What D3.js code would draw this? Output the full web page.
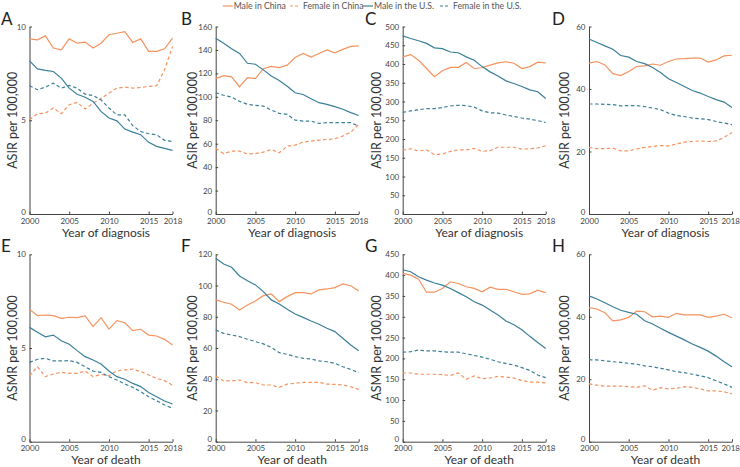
<!DOCTYPE html>
<html><head><meta charset="utf-8">
<script src="https://cdn.jsdelivr.net/npm/d3@7"></script>
<style>body{margin:0;background:#fff}svg{display:block}</style>
</head><body>
<svg id="c" width="740" height="467"></svg>
<script>
const years = d3.range(2000, 2019);
const xTicks = [2000, 2005, 2010, 2015, 2018];
const seriesNames = ["Male in China", "Female in China", "Male in the U.S.", "Female in the U.S."];

// A: ASIR
const A_maleChina   = [9.34,9.29,9.5,8.85,8.76,9.34,9.11,9.17,8.85,9.11,9.56,9.64,9.73,9.15,9.34,8.67,8.67,8.81,9.38];
const A_femaleChina = [5.03,5.35,5.38,5.65,5.35,5.83,5.95,5.6,5.91,6.16,6.45,6.71,6.77,6.71,6.75,6.8,6.84,7.69,8.93];
const A_maleUS      = [8.17,7.74,7.66,7.6,7.25,6.71,6.39,6.23,6.0,5.47,5.12,4.97,4.53,4.37,4.23,3.82,3.61,3.5,3.39];
const A_femaleUS    = [6.84,6.63,6.77,6.98,6.71,6.86,6.71,6.39,6.32,6.09,5.65,5.29,5.29,4.71,4.4,4.28,4.23,3.93,3.87];
// B
const B_maleChina   = [115.5,118,117,108.6,116.4,115.5,124,126,125,127,133.5,137,134,137,140,137.5,140.5,143,143.5];
const B_femaleChina = [56,51.6,53.6,53.6,51.3,51.6,52.8,55,52.2,57.9,58.8,61.3,62.2,63,63.6,64.2,66.5,69.8,76.4];
const B_maleUS      = [150,145.7,141,137,128.6,127.8,123,117.8,114,109,103.5,102,98.4,95,93.6,91.6,89.4,86.5,84.1];
const B_femaleUS    = [103.5,101.3,99.8,96.1,93.6,92.7,92.1,88.7,85.9,85,80.1,79.3,79.3,77.3,77.9,77.9,77.9,77.9,75];
// C
const C_maleChina   = [419,425,410,388,366,382,391,391,404,388,390,397,403,406,402,388,393,405,403];
const C_femaleChina = [170,174,168,171,158,160,167,171,171,175,167,169,178,178,178,173,174,176,182];
const C_maleUS      = [475,468,462,455,443,441,432,430,419,410,393,379,368,355,348,340,331,326,308];
const C_femaleUS    = [271,275,278,281,281,284,288,290,289,285,275,270,269,264,260,256,253,249,244];
// D
const D_maleChina   = [48.3,48.8,47.7,44.9,44.3,45.6,47.2,47.4,48,47.6,48.8,49.6,49.7,49.9,49.9,48.6,49.3,50.6,50.8];
const D_femaleChina = [21.3,20.9,20.9,21.1,20.2,20.2,20.8,21.3,21.6,21.9,21.8,22.4,23,23.2,23.4,23.2,23.4,24.5,26.1];
const D_maleUS      = [56,54.9,53.8,52.7,50.7,50.2,48.8,48.1,46.9,45.3,43.3,42.1,40.8,39.5,38.7,37.6,36.6,35.8,34.1];
const D_femaleUS    = [35.2,35.2,35.1,35,34.6,34.7,34.7,34.4,33.9,33.4,32.3,31.5,31.2,30.7,30.5,30.2,29.6,29.1,28.6];
// E: ASMR
const E_maleChina   = [7.06,6.73,6.76,6.73,6.58,6.64,6.62,6.71,6.14,6.62,6.01,6.46,6.35,5.93,6.0,5.69,5.64,5.46,5.16];
const E_femaleChina = [3.52,4.0,3.47,3.61,3.7,3.65,3.65,3.77,3.47,3.59,3.52,3.79,3.83,3.88,3.74,3.56,3.38,3.26,3.02];
const E_maleUS      = [6.1,5.84,5.6,5.69,5.39,5.2,4.86,4.54,4.36,4.15,3.77,3.47,3.33,3.11,2.94,2.62,2.4,2.17,2.01];
const E_femaleUS    = [4.23,4.4,4.45,4.31,4.31,4.33,4.23,4.0,3.77,3.7,3.47,3.29,3.08,2.9,2.67,2.4,2.19,1.96,1.78];
// F
const F_maleChina   = [90.8,89.3,88,84.3,87.5,90.1,93.5,94.6,89.7,92.9,95.4,95.4,94.6,97.2,97.8,98.7,101,99.9,96.5];
const F_femaleChina = [42.1,38.9,38.9,39.5,37.8,37.8,36.3,36.3,34.8,36.9,37.4,38,38,38,36.9,36.7,36.3,35.2,33.5];
const F_maleUS      = [117.4,113.8,111.7,106.1,103.1,100.4,96.1,90.8,88.2,84.8,81.8,79.6,77.3,75.2,72.6,70.5,66.2,61.9,58.3];
const F_femaleUS    = [71.5,69.4,68.3,67.3,65.6,64.1,62.6,60.4,57,55.9,54.5,53.4,53,51.7,51.2,50.2,48,46.3,44.2];
// G
const G_maleChina   = [404,400,390,359,359,368,384,380,372,368,360,371,366,366,360,354,355,364,358];
const G_femaleChina = [165,165,162,162,162,161,159,165,150,158,151,153,157,155,153,147,143,143,141];
const G_maleUS      = [413,408,396,388,381,376,368,358,348,336,328,316,304,290,281,269,253,238,224];
const G_femaleUS    = [215,216,220,218,218,216,215,215,211,207,203,198,192,188,184,178,171,160,154];
// H
const H_maleChina   = [42.9,42.5,41.3,38.7,39,39.8,41.8,41.6,40,40.2,39.8,41.1,40.6,40.6,40.6,39.8,40.2,40.8,39.7];
const H_femaleChina = [18.5,18.1,17.8,17.8,17.8,17.6,17.4,17.9,16.5,17.3,16.9,17.1,17.6,17.4,16.9,16.3,16.3,16,15.3];
const H_maleUS      = [46.7,45.7,44.5,43.2,42.1,41.4,40.8,38.7,37.7,36.3,35.0,33.8,32.6,31.3,30.2,29.0,27.4,25.6,24.0];
const H_femaleUS    = [26.2,26.2,25.9,25.6,25.4,25.1,24.8,24.3,24,23.5,23,22.4,22.1,21.6,21.1,20.5,19.5,18.5,17.4];

const panelLetters = ["A","B","C","D","E","F","G","H"];
const panelMax = [10,160,500,60,10,120,450,60];
const panelStep = [5,20,50,20,5,20,50,20];
const yTitles = ["ASIR per 100,000","ASIR per 100,000","ASIR per 100,000","ASIR per 100,000",
                 "ASMR per 100,000","ASMR per 100,000","ASMR per 100,000","ASMR per 100,000"];
const xTitles = ["Year of diagnosis","Year of diagnosis","Year of diagnosis","Year of diagnosis",
                 "Year of death","Year of death","Year of death","Year of death"];
const panelData = [
  [A_maleChina,A_femaleChina,A_maleUS,A_femaleUS],
  [B_maleChina,B_femaleChina,B_maleUS,B_femaleUS],
  [C_maleChina,C_femaleChina,C_maleUS,C_femaleUS],
  [D_maleChina,D_femaleChina,D_maleUS,D_femaleUS],
  [E_maleChina,E_femaleChina,E_maleUS,E_femaleUS],
  [F_maleChina,F_femaleChina,F_maleUS,F_femaleUS],
  [G_maleChina,G_femaleChina,G_maleUS,G_femaleUS],
  [H_maleChina,H_femaleChina,H_maleUS,H_femaleUS]
];

const ORANGE = "#f4935f", BLUE = "#3b7f98";
const colors = [ORANGE, ORANGE, BLUE, BLUE];
const dashes = [null, "3.5,2.5", null, "3.5,2.5"];
const FONT = "Lato, 'Open Sans', sans-serif";

const svg = d3.select("#c");
const colX = [29.5, 215.7, 402.7, 589];
const rowY = [[26.5, 214], [254.3, 441.7]];
const plotW = 143;

// Legend
const legendX = [222.7, 290, 363, 440];
const lg = svg.append("g");
seriesNames.forEach((n, i) => {
  lg.append("line").attr("x1", legendX[i]).attr("x2", legendX[i] + 10)
    .attr("y1", 6).attr("y2", 6).attr("stroke", colors[i]).attr("stroke-width", 1.2)
    .attr("stroke-dasharray", dashes[i] ? "3,2" : null);
  lg.append("text").attr("x", legendX[i] + (dashes[i] ? 13 : 11)).attr("y", 9)
    .attr("font-family", FONT).attr("font-size", 8.7).attr("fill", "#555").text(n);
});

panelData.forEach((series, p) => {
  const col = p % 4, row = Math.floor(p / 4);
  const x0 = colX[col], [yTop, yBot] = rowY[row];
  const x = d3.scaleLinear().domain([2000, 2018]).range([x0, x0 + plotW]);
  const y = d3.scaleLinear().domain([0, panelMax[p]]).range([yBot, yTop]);
  const g = svg.append("g");

  const xa = g.append("g").attr("transform", `translate(0,${yBot})`)
    .call(d3.axisBottom(x).tickValues(xTicks).tickFormat(d3.format("d")).tickSizeInner(-2.5).tickSizeOuter(0).tickPadding(4.5));
  const ya = g.append("g").attr("transform", `translate(${x0},0)`)
    .call(d3.axisLeft(y).tickValues(d3.range(0, panelMax[p] + 0.001, panelStep[p])).tickSizeInner(-2.5).tickSizeOuter(0).tickPadding(3.5));
  [xa, ya].forEach(a => {
    a.select(".domain").attr("stroke", "#444").attr("stroke-width", 1);
    a.selectAll(".tick line").attr("stroke", "#444");
    a.selectAll("text").attr("font-family", FONT).attr("font-size", 8).attr("fill", "#444");
  });
  ya.selectAll("text").filter(d => d === 0).attr("dy", row === 1 ? "-0.05em" : "0.1em");
  xa.selectAll("text").filter(d => d === 2018 && col === 3).attr("text-anchor", "end").attr("dx", "7.5");
  if (row === 1) xa.selectAll("text").attr("dy", "0.6em");

  series.forEach((vals, i) => {
    g.append("path").datum(vals)
      .attr("fill", "none").attr("stroke", colors[i]).attr("stroke-width", 1.2)
      .attr("stroke-dasharray", dashes[i])
      .attr("d", d3.line().x((d, k) => x(years[k])).y(d => y(d)));
  });

  g.append("text").attr("x", x0 + plotW / 2 + 5).attr("y", yBot + (row === 0 ? 23 : 22.2))
    .attr("text-anchor", "middle").attr("font-family", FONT).attr("font-size", 12).attr("fill", "#333")
    .text(xTitles[p]);
  const yl = [17, 197, 381, 569][col];
  g.append("text").attr("transform", `translate(${yl},${(yTop + yBot) / 2}) rotate(-90)`)
    .attr("text-anchor", "middle").attr("font-family", FONT).attr("font-size", 12.5).attr("fill", "#333")
    .text(yTitles[p]);
  g.append("text").attr("x", [1, 181, 365, 552][col]).attr("y", yTop - 2)
    .attr("font-family", FONT).attr("font-size", 17).attr("fill", "#222")
    .text(panelLetters[p]);
});
</script>
</body></html>
